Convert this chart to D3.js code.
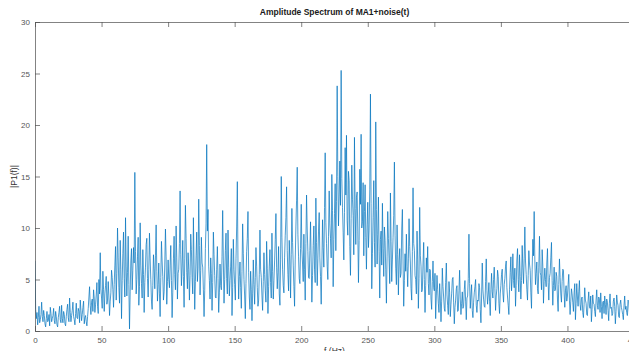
<!DOCTYPE html>
<html>
<head>
<meta charset="utf-8">
<script src="https://cdn.jsdelivr.net/npm/d3@7"></script>
<style>
  html, body { margin: 0; padding: 0; background: #fff; }
  svg { display: block; font-family: "Liberation Sans", Arial, sans-serif; }
</style>
</head>
<body>
<div id="chart"></div>
<script>
// amplitude |P1(f)|, 0.5 Hz steps from 0 to 450 Hz (20 values per 10 Hz row)
const amp = [
  6.8, 2.1, 1.2, 1.8, 0.6, 1.3, 2.4, 0.8, 1.1, 1.6, 2.8, 1.4, 0.9, 2.0, 1.5, 0.7, 0.4, 1.2, 1.9, 0.9,
  1.0, 1.6, 0.5, 2.3, 1.7, 0.9, 1.2, 1.5, 2.2, 1.0, 0.7, 1.9, 1.4, 0.6, 0.4, 1.3, 1.8, 2.4, 1.1, 0.8,
  2.5, 1.2, 0.8, 1.9, 1.6, 0.7, 0.5, 1.4, 2.1, 2.6, 1.3, 0.9, 3.2, 1.8, 0.9, 1.5, 2.0, 2.8, 1.4, 1.1,
  0.6, 1.7, 2.7, 1.3, 1.2, 2.2, 1.9, 0.8, 3.0, 2.0, 1.0, 1.6, 2.3, 2.9, 0.7, 1.3, 1.5, 0.9, 0.5, 1.4,
  2.2, 3.3, 4.3, 2.5, 1.6, 2.8, 3.1, 1.9, 4.0, 3.2, 1.8, 2.6, 3.5, 4.7, 2.4, 1.7, 5.0, 3.6, 7.6, 4.1,
  3.2, 2.2, 5.8, 4.0, 1.9, 3.6, 4.4, 5.3, 2.6, 3.0, 4.8, 3.4, 1.5, 2.9, 3.7, 5.9, 5.2, 4.0, 2.3, 4.5,
  6.4, 8.2, 3.0, 5.6, 10.0, 7.1, 4.2, 2.7, 8.8, 6.0, 1.2, 4.9, 7.5, 9.6, 5.1, 3.3, 11.0, 6.3, 3.4, 5.7,
  9.2, 4.5, 0.2, 3.8, 6.8, 8.0, 4.0, 5.9, 8.1, 6.6, 15.4, 7.7, 3.6, 5.0, 7.2, 9.1, 2.5, 4.3, 10.5, 6.4,
  4.6, 3.2, 7.9, 5.5, 1.8, 4.7, 6.2, 8.4, 9.0, 5.1, 3.3, 6.0, 9.5, 7.0, 5.0, 2.9, 2.1, 4.4, 7.4, 6.1,
  4.1, 7.3, 10.3, 5.8, 2.9, 4.5, 6.6, 3.6, 1.4, 5.2, 8.7, 6.8, 5.3, 3.0, 3.8, 6.5, 9.9, 7.2, 2.6, 4.8,
  6.9, 5.0, 4.2, 6.4, 8.3, 4.9, 1.3, 3.7, 7.0, 9.2, 5.5, 4.0, 10.2, 7.1, 3.1, 5.6, 6.0, 8.5, 13.6, 7.4,
  4.4, 6.2, 8.8, 5.3, 2.3, 7.0, 12.2, 9.0, 5.7, 4.1, 7.6, 6.0, 3.0, 5.4, 9.4, 7.9, 5.2, 3.6, 11.0, 6.5,
  2.1, 4.8, 7.3, 9.6, 4.8, 6.1, 12.8, 8.3, 3.5, 5.9, 9.1, 6.6, 6.2, 4.0, 1.4, 3.9, 8.0, 10.4, 18.1, 9.7,
  11.8, 6.3, 4.9, 3.1, 7.1, 5.6, 2.0, 4.7, 9.6, 7.4, 5.4, 3.3, 3.2, 6.0, 8.2, 5.1, 1.8, 3.7, 6.5, 4.4,
  4.0, 7.2, 11.7, 6.8, 2.7, 5.0, 7.8, 9.5, 5.1, 3.6, 9.8, 6.2, 3.4, 4.9, 6.3, 8.0, 1.5, 4.2, 8.9, 6.0,
  4.5, 3.0, 7.0, 10.1, 14.5, 6.6, 3.1, 5.3, 6.7, 4.2, 2.2, 5.8, 10.4, 7.5, 5.0, 3.4, 1.2, 4.6, 7.7, 9.0,
  11.6, 5.7, 3.3, 2.1, 5.8, 4.0, 1.0, 3.6, 6.9, 4.5, 2.6, 5.2, 8.1, 6.3, 4.2, 2.4, 3.0, 5.5, 9.8, 6.0,
  5.2, 3.4, 2.0, 4.8, 7.6, 5.5, 3.9, 2.8, 8.7, 6.1, 1.7, 4.3, 6.3, 7.9, 4.7, 3.2, 9.5, 5.8, 3.1, 4.9,
  6.8, 8.9, 11.4, 6.2, 4.1, 5.7, 8.2, 3.6, 2.5, 6.9, 15.0, 9.1, 6.0, 4.4, 3.7, 7.1, 9.3, 11.0, 14.0, 7.8,
  5.5, 3.9, 8.8, 6.7, 3.2, 7.4, 11.9, 8.6, 6.4, 4.3, 2.4, 6.9, 10.1, 12.7, 15.9, 9.4, 7.2, 5.1, 4.6, 8.0,
  12.3, 7.9, 6.5, 4.8, 9.4, 6.0, 3.0, 8.5, 13.2, 9.9, 7.7, 5.2, 5.1, 7.8, 10.6, 6.6, 2.8, 5.4, 8.3, 10.2,
  6.0, 4.7, 12.9, 8.6, 4.4, 7.0, 9.7, 11.5, 7.1, 5.3, 2.6, 6.4, 10.8, 8.1, 6.2, 12.0, 17.3, 10.5, 8.5, 6.3,
  5.0, 9.2, 13.6, 10.4, 9.0, 7.1, 15.2, 11.7, 4.3, 8.9, 11.4, 14.3, 7.8, 12.6, 23.8, 15.0, 10.2, 13.1, 16.5, 12.2,
  25.3, 14.8, 12.0, 9.6, 6.9, 11.5, 17.8, 13.2, 19.0, 10.7, 9.3, 15.5, 14.6, 8.2, 5.4, 10.9, 16.1, 12.8, 11.2, 7.4,
  18.8, 11.9, 8.4, 13.0, 13.5, 9.7, 4.7, 8.8, 15.7, 12.3, 19.1, 10.0, 10.6, 14.4, 7.3, 11.6, 14.2, 9.1, 6.0, 10.3,
  12.5, 8.1, 9.8, 13.7, 23.0, 12.4, 4.1, 7.5, 11.0, 14.6, 8.6, 6.2, 20.3, 11.8, 6.5, 9.4, 13.0, 7.7, 3.2, 8.9,
  9.7, 6.4, 12.4, 8.0, 5.3, 10.1, 8.8, 6.0, 2.7, 7.2, 11.6, 9.0, 7.0, 4.6, 13.4, 8.7, 4.8, 6.9, 9.1, 11.2,
  16.4, 9.3, 6.1, 4.5, 10.3, 7.4, 3.5, 6.8, 8.0, 5.2, 5.6, 9.9, 11.8, 6.7, 2.4, 4.9, 7.5, 5.8, 9.4, 6.3,
  4.3, 7.0, 10.9, 8.2, 6.6, 4.1, 3.0, 7.7, 13.9, 8.5, 7.8, 5.4, 5.0, 3.6, 9.7, 6.9, 2.2, 5.1, 12.0, 7.3,
  6.3, 3.8, 4.0, 6.5, 8.6, 5.0, 1.8, 4.4, 7.1, 5.7, 8.2, 4.6, 3.5, 6.0, 5.9, 3.1, 2.1, 4.8, 6.8, 4.2,
  3.9, 5.6, 1.2, 3.4, 5.4, 4.0, 2.7, 1.8, 4.6, 3.2, 0.9, 2.9, 6.1, 4.3, 3.3, 2.2, 1.9, 4.7, 6.6, 3.5,
  2.5, 1.6, 4.8, 3.7, 1.4, 2.6, 3.6, 5.0, 5.2, 2.8, 0.7, 2.3, 3.0, 4.1, 4.4, 1.9, 2.0, 3.9, 5.9, 3.1,
  1.6, 2.7, 3.8, 2.2, 2.4, 4.0, 4.9, 2.9, 1.1, 3.2, 3.4, 5.1, 9.4, 4.6, 2.2, 3.5, 4.5, 2.0, 1.3, 2.8,
  3.7, 4.3, 5.0, 2.5, 1.8, 3.0, 2.9, 4.6, 4.2, 2.1, 0.8, 3.3, 6.6, 4.0, 3.1, 2.4, 2.3, 4.8, 7.0, 3.9,
  2.6, 3.5, 4.7, 2.9, 1.5, 4.0, 5.6, 3.8, 3.2, 5.0, 6.2, 4.1, 2.0, 3.4, 4.1, 5.9, 5.3, 2.7, 1.7, 3.6,
  4.4, 5.5, 6.0, 3.7, 2.8, 4.5, 5.1, 6.3, 6.8, 4.2, 3.3, 2.5, 1.6, 4.0, 5.7, 7.2, 3.9, 5.0, 7.5, 4.9,
  4.2, 6.1, 2.4, 4.4, 6.9, 8.0, 5.0, 3.8, 7.4, 5.3, 3.1, 4.9, 8.3, 6.2, 4.6, 7.0, 10.1, 6.8, 5.5, 4.0,
  3.0, 5.4, 7.8, 6.5, 5.9, 3.7, 2.2, 6.0, 8.9, 7.3, 11.6, 6.9, 4.5, 5.6, 6.7, 4.1, 3.6, 6.2, 9.2, 5.7,
  5.4, 4.0, 7.9, 6.3, 2.7, 4.8, 6.1, 5.0, 4.3, 6.6, 8.0, 4.7, 3.0, 5.2, 5.6, 7.1, 8.6, 4.9, 2.5, 4.4,
  6.2, 3.9, 4.0, 5.7, 5.3, 3.1, 1.9, 4.5, 7.0, 5.2, 3.6, 2.8, 4.8, 6.0, 5.9, 3.7, 2.3, 3.9, 4.4, 2.9,
  3.4, 4.5, 5.5, 3.0, 1.6, 2.9, 4.1, 3.6, 2.8, 1.9, 3.7, 4.6, 1.1, 2.7, 4.6, 3.3, 2.4, 3.8, 4.9, 2.6,
  2.0, 3.1, 3.3, 1.8, 1.3, 2.6, 4.2, 3.0, 2.7, 1.6, 1.5, 2.9, 3.8, 2.4, 2.2, 3.4, 0.9, 2.1, 3.5, 2.7,
  2.6, 1.9, 1.4, 3.0, 4.0, 2.5, 2.1, 3.3, 3.1, 1.8, 3.7, 2.4, 1.2, 2.8, 2.9, 1.7, 3.4, 2.6, 1.6, 3.1,
  2.8, 2.0, 1.0, 2.7, 3.6, 2.2, 2.3, 1.5, 1.7, 2.9, 3.2, 2.4, 0.7, 1.9, 3.5, 2.8, 2.5, 1.4, 1.3, 2.6,
  3.0, 2.3, 2.0, 1.6, 1.1, 2.5, 3.4, 2.1, 2.4, 1.8, 1.5, 3.0, 2.9, 1.9, 0.8, 2.0, 2.2, 3.3, 3.1, 2.2,
  1.8
];
// frequency axis: 0.5 Hz steps
const freq = amp.map((_, i) => i * 0.5);

const xTicks = [0, 50, 100, 150, 200, 250, 300, 350, 400, 450];
const yTicks = [0, 5, 10, 15, 20, 25, 30];

const width = 629;
const height = 351;
const plotL = 35, plotT = 22, plotR = 634, plotB = 331;

const svg = d3.select("#chart")
  .append("svg")
  .attr("width", width)
  .attr("height", height);

const x = d3.scaleLinear().domain([0, 450]).range([plotL, plotR]);
const y = d3.scaleLinear().domain([0, 30]).range([plotB, plotT]);

svg.append("clipPath").attr("id", "clip")
  .append("rect")
  .attr("x", plotL).attr("y", plotT)
  .attr("width", plotR - plotL).attr("height", plotB - plotT);

const line = d3.line()
  .x(d => x(d[0]))
  .y(d => y(d[1]));

svg.append("path")
  .datum(freq.map((f, i) => [f, amp[i]]))
  .attr("clip-path", "url(#clip)")
  .attr("fill", "none")
  .attr("stroke", "#0072BD")
  .attr("stroke-width", 0.7)
  .attr("stroke-linejoin", "round")
  .attr("d", line);

// axes, ticks pointing inward like matlab
const axisColor = "#4d4d4d";

svg.append("g")
  .attr("transform", `translate(0,${plotB})`)
  .call(d3.axisBottom(x).tickValues(xTicks).tickSize(-5).tickSizeOuter(0).tickPadding(6));

svg.append("g")
  .attr("transform", `translate(0,${plotT})`)
  .call(d3.axisTop(x).tickValues(xTicks).tickSize(-5).tickSizeOuter(0).tickFormat(""));

svg.append("g")
  .attr("transform", `translate(${plotL},0)`)
  .call(d3.axisLeft(y).tickValues(yTicks).tickSize(-5).tickSizeOuter(0).tickPadding(5));

svg.append("g")
  .attr("transform", `translate(${plotR},0)`)
  .call(d3.axisRight(y).tickValues(yTicks).tickSize(-5).tickSizeOuter(0).tickFormat(""));

svg.selectAll(".domain, .tick line")
  .attr("stroke", axisColor)
  .attr("stroke-width", 0.7);

svg.selectAll(".tick text")
  .attr("fill", "#555")
  .style("font-size", "8px")
  .style("font-family", "'Liberation Sans', Arial, sans-serif");

svg.append("text")
  .attr("x", (plotL + plotR) / 2)
  .attr("y", 15)
  .attr("text-anchor", "middle")
  .style("font-size", "8.5px")
  .style("font-weight", "bold")
  .attr("fill", "#1a1a1a")
  .text("Amplitude Spectrum of MA1+noise(t)");

svg.append("text")
  .attr("transform", `translate(17,${(plotT + plotB) / 2}) rotate(-90)`)
  .attr("text-anchor", "middle")
  .style("font-size", "8.5px")
  .attr("fill", "#333")
  .text("|P1(f)|");

svg.append("text")
  .attr("x", (plotL + plotR) / 2)
  .attr("y", 354)
  .attr("text-anchor", "middle")
  .style("font-size", "8.5px")
  .attr("fill", "#333")
  .text("f (Hz)");
</script>
</body>
</html>
